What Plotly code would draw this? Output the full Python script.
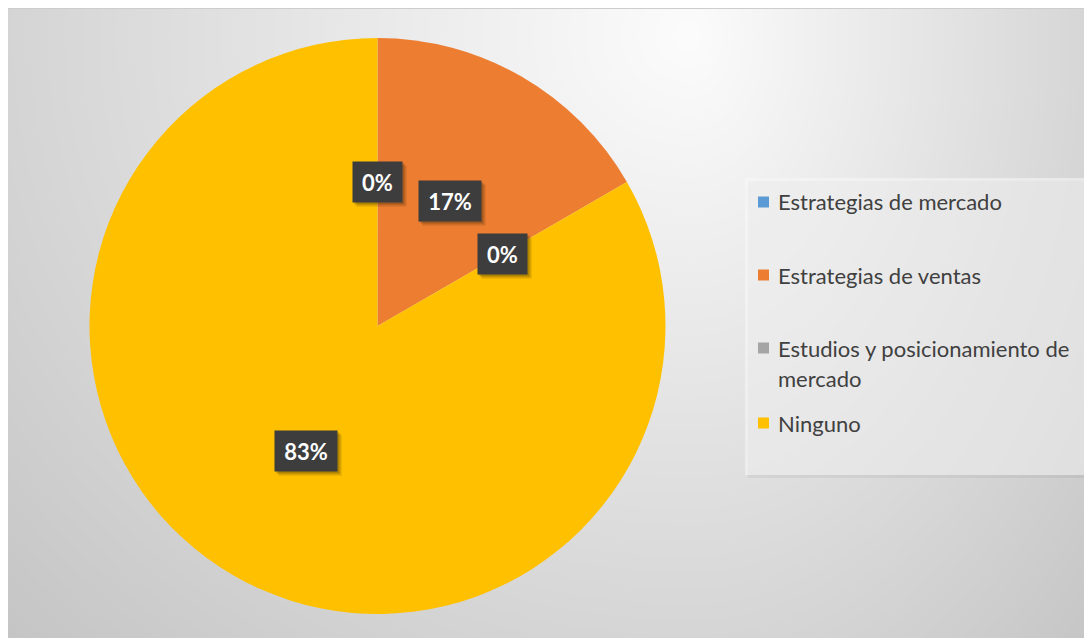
import base64, struct, zlib
import math
import numpy as np
import plotly.graph_objects as go

# ---------------- data ----------------
categories = ["Estrategias de mercado", "Estrategias de ventas",
              "Estudios y posicionamiento de mercado", "Ninguno"]
values = [0, 1, 0, 5]
colors = ["#5B9BD5", "#ED7D31", "#A5A5A5", "#FFC000"]
legend_lines = [["Estrategias de mercado"], ["Estrategias de ventas"],
                ["Estudios y posicionamiento de", "mercado"], ["Ninguno"]]

W, H = 1092, 638
CX, CY, R = 369.5, 318.0, 288.0  # pie centre / radius in figure px

def px(x):
    return x / W

def py(y):
    return 1 - y / H

# ---------------- background gradient image ----------------
def png_uri(arr):
    h, w, _ = arr.shape
    raw = b"".join(b"\x00" + arr[i].tobytes() for i in range(h))
    def chunk(t, d):
        c = struct.pack(">I", len(d)) + t + d
        return c + struct.pack(">I", zlib.crc32(t + d) & 0xFFFFFFFF)
    png = (b"\x89PNG\r\n\x1a\n"
           + chunk(b"IHDR", struct.pack(">IIBBBBB", w, h, 8, 2, 0, 0, 0))
           + chunk(b"IDAT", zlib.compress(raw, 9))
           + chunk(b"IEND", b""))
    return "data:image/png;base64," + base64.b64encode(png).decode()

yy, xx = np.mgrid[0:H, 0:W].astype(float)
gcx, gcy = 682.0, 27.0
sx = np.where(xx < gcx, 660.0, 400.0)
d = np.sqrt(((xx - gcx) / sx) ** 2 + ((yy - gcy) / 600.0) ** 2)
b = np.clip(252 - 38 * d, 190, 255)
img = np.repeat(b[:, :, None], 3, axis=2).astype(np.uint8)
img[0, :, :] = 205
bg_uri = png_uri(img)

# ---------------- figure ----------------
fig = go.Figure()
fig.add_trace(go.Pie(
    labels=categories, values=values, sort=False, direction="clockwise",
    rotation=0, marker=dict(colors=colors, line=dict(width=0)),
    textinfo="none", hoverinfo="label+percent", showlegend=False,
    domain=dict(x=[px(CX - R), px(CX + R)], y=[py(CY + R), py(CY - R)]),
))

annotations = []
shapes = []

# data labels (dark boxes) at half radius, slice mid-angle
total = sum(values)
cum = 0
for v in values:
    mid = (cum + v / 2) / total * 2 * math.pi
    cum += v
    lx = CX + 0.5 * R * math.sin(mid)
    ly = CY - 0.5 * R * math.cos(mid)
    txt = f"{round(100 * v / total)}%"
    bw = 13 * len(txt) + 13
    common = dict(x=px(lx), y=py(ly), xref="paper", yref="paper", showarrow=False,
                  xanchor="center", yanchor="middle", width=bw, height=30, borderpad=5)
    for dx, dy, col in [(4, -4, "rgba(60,40,0,0.18)"), (2, -2, "rgba(40,30,0,0.25)")]:
        annotations.append(dict(common, text=" ", bgcolor=col, xshift=dx, yshift=dy,
                                font=dict(size=22)))
    annotations.append(dict(common, text=f"<b>{txt}</b>", bgcolor="#3d3d3d",
                            font=dict(family="Lato, Carlito, sans-serif", size=22, color="white")))

# legend box
LX0, LX1, LY0, LY1 = 737, 1077, 170, 467
shapes.append(dict(type="rect", xref="paper", yref="paper",
                   x0=px(LX0 + 3), x1=px(LX1 + 3), y0=py(LY1 + 3), y1=py(LY0 + 3),
                   fillcolor="rgba(0,0,0,0.05)", line=dict(width=0), layer="above"))
shapes.append(dict(type="rect", xref="paper", yref="paper",
                   x0=px(LX0), x1=px(LX1), y0=py(LY1), y1=py(LY0),
                   fillcolor="rgba(248,248,248,0.55)", line=dict(width=0), layer="above"))

item_y = [194, 267, 340, 415]
for i, cat in enumerate(categories):
    yc = item_y[i]
    shapes.append(dict(type="rect", xref="paper", yref="paper",
                       x0=px(750), x1=px(761), y0=py(yc + 5.5), y1=py(yc - 5.5),
                       fillcolor=colors[i], line=dict(width=0), layer="above"))
    for j, line in enumerate(legend_lines[i]):
        annotations.append(dict(x=px(768), y=py(yc + 30 * j), xref="paper", yref="paper",
                                text=line, showarrow=False, xanchor="left", yanchor="middle",
                                font=dict(family="Lato, Carlito, sans-serif", size=22,
                                          color="#404040")))

fig.update_layout(
    width=W, height=H, margin=dict(l=0, r=0, t=0, b=0),
    paper_bgcolor="white", plot_bgcolor="white",
    images=[dict(source=bg_uri, xref="paper", yref="paper", x=0, y=1, sizex=1, sizey=1,
                 xanchor="left", yanchor="top", sizing="stretch", layer="below")],
    shapes=shapes, annotations=annotations,
)

fig.write_html("out.html")
